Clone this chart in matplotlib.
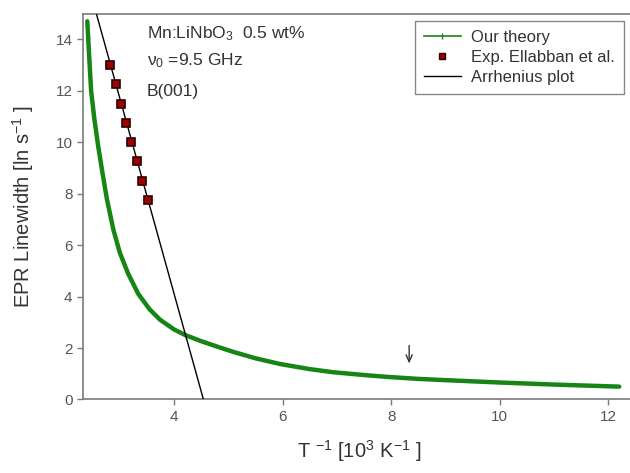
import matplotlib
matplotlib.use("Agg")
import matplotlib.pyplot as plt
from matplotlib.lines import Line2D
import numpy as np

plt.rcParams['font.family'] = ['Liberation Sans', 'DejaVu Sans']
plt.rcParams['mathtext.fontset'] = 'custom'
plt.rcParams['mathtext.rm'] = 'Liberation Sans'
plt.rcParams['mathtext.it'] = 'Liberation Sans:italic'
plt.rcParams['mathtext.default'] = 'rm'

# theory curve
theory_x = [2.40, 2.43, 2.47, 2.53, 2.60, 2.68, 2.76, 2.88, 3.00, 3.15,
            3.34, 3.55, 3.74, 4.00, 4.21, 4.48, 4.80, 5.09, 5.50, 5.95,
            6.50, 6.93, 7.50, 7.92, 8.50, 9.02, 10.0, 11.0, 12.2]
theory_y = [14.7, 13.5, 12.0, 10.9, 9.85, 8.8, 7.8, 6.6, 5.7, 4.9,
            4.1, 3.5, 3.1, 2.72, 2.5, 2.28, 2.05, 1.85, 1.6, 1.38,
            1.18, 1.06, 0.95, 0.88, 0.80, 0.75, 0.66, 0.58, 0.50]

# experimental points (Ellabban et al.)
exp_x = [2.82, 2.92, 3.02, 3.11, 3.21, 3.31, 3.41, 3.51]
exp_y = [13.0, 12.25, 11.5, 10.75, 10.0, 9.25, 8.5, 7.75]

# Arrhenius fit: y = intercept + slope * x
arr_slope = -7.6
arr_intercept = 34.5
arr_x = [2.5, 4.54]

arrow_x = 8.33
arrow_y = (2.10, 1.40)

grey = '#555555'
spine_col = '#7a7a7a'
green = '#168516'

fig = plt.figure(figsize=(6.3, 4.73), dpi=100)
ax = fig.add_axes([0.1317, 0.1554, 0.877, 0.816])

ax.plot(theory_x, theory_y, color=green, lw=3.2, solid_capstyle='round',
        solid_joinstyle='round', zorder=2)
ax.plot(arr_x, [arr_intercept + arr_slope * v for v in arr_x], color='black', lw=1.0, zorder=3)
ax.plot(exp_x, exp_y, ls='none', marker='s', ms=6, mfc='#a00000', mec='#2a0000', mew=1.2, zorder=4)

ax.annotate('', xy=(arrow_x, arrow_y[1]), xytext=(arrow_x, arrow_y[0]),
            arrowprops=dict(arrowstyle='->,head_length=0.5,head_width=0.22',
                            color='#333333', lw=1.0, shrinkA=0, shrinkB=0))

ax.text(3.50, 14.02, 'Mn:LiNbO$_3$  0.5 wt%', fontsize=12.5, color='#333333', va='baseline')
ax.text(3.50, 12.99, 'ν$_0$ =9.5 GHz', fontsize=12.5, color='#333333', va='baseline')
ax.text(3.50, 11.78, 'B(001)', fontsize=12.5, color='#333333', va='baseline')

ax.set_xlim(2.32, 12.5)
ax.set_ylim(0, 15)
ax.set_xticks([4, 6, 8, 10, 12])
ax.set_yticks(np.arange(0, 15, 2))
ax.tick_params(direction='out', length=4, width=1, colors=spine_col, labelcolor=grey,
               labelsize=11)
for side in ['left', 'bottom', 'top']:
    ax.spines[side].set_color(spine_col)
    ax.spines[side].set_linewidth(1.2)
ax.spines['right'].set_visible(False)

ax.set_xlabel('T $^{-1}$ [10$^3$ K$^{-1}$ ]', fontsize=14.5, color='#333333', labelpad=10)
ax.set_ylabel('EPR Linewidth [ln s$^{-1}$ ]', fontsize=14.5, color='#333333', labelpad=14)

handles = [
    Line2D([], [], color=green, lw=1.2, marker='|', ms=4, mew=1.0),
    Line2D([], [], ls='none', marker='s', ms=5, mfc='#a00000', mec='#2a0000', mew=1.0),
    Line2D([], [], color='black', lw=1.0),
]
labels = ['Our theory', 'Exp. Ellabban et al.', 'Arrhenius plot']
leg = ax.legend(handles, labels, loc='upper right', bbox_to_anchor=(0.990, 0.956),
                bbox_transform=fig.transFigure, borderaxespad=0, fontsize=12,
                fancybox=False, framealpha=1, edgecolor='#888888', handlelength=2.2,
                labelspacing=0.3, borderpad=0.55, handletextpad=0.6)
leg.get_frame().set_linewidth(1.0)
for t in leg.get_texts():
    t.set_color('#333333')

fig.savefig('out.png', dpi=100)
